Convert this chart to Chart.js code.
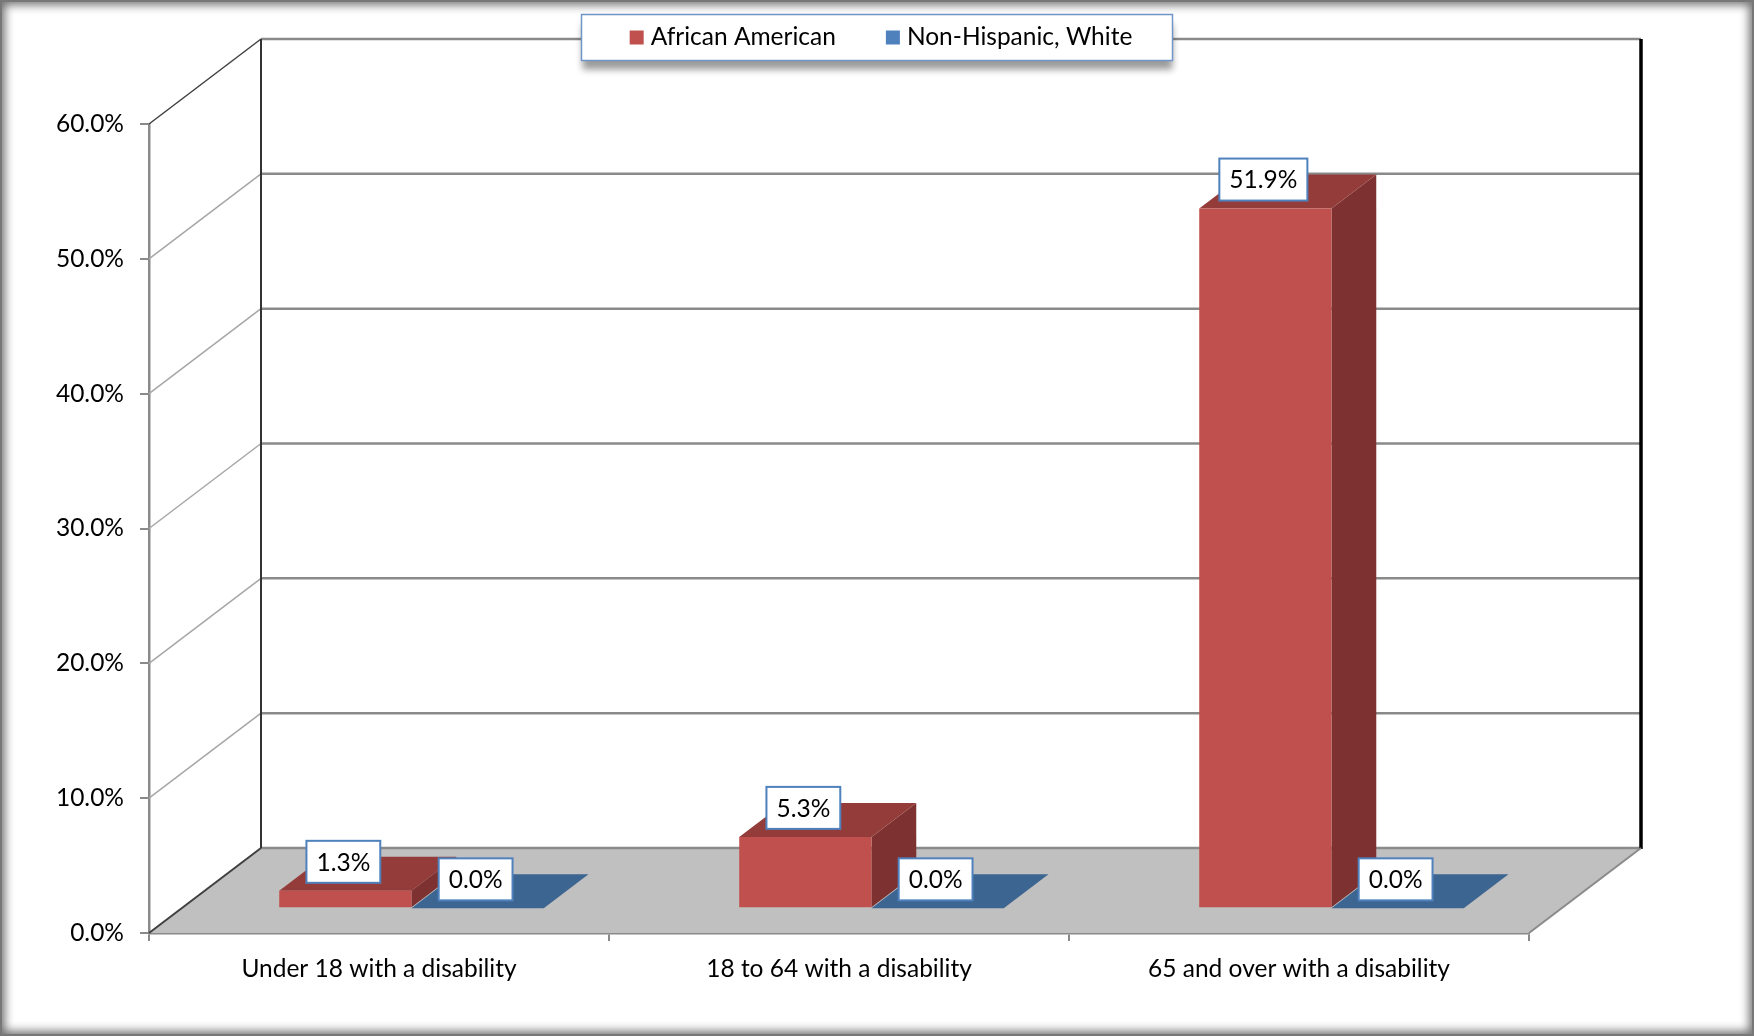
<!DOCTYPE html>
<html>
<head>
<meta charset="utf-8">
<script src="https://cdn.jsdelivr.net/npm/chart.js@4.4.1/dist/chart.umd.min.js"></script>
<style>
  html, body { margin: 0; padding: 0; background: #fff; }
  #wrap { position: relative; width: 1754px; height: 1036px; }
  #chart { display: block; }
  #frame {
    position: absolute; left: 0; top: 0; right: 0; bottom: 0;
    border: 2px solid #777;
    box-shadow: inset 0 0 10px 3px rgba(0,0,0,0.55);
    pointer-events: none;
  }
</style>
</head>
<body>
<div id="wrap">
  <canvas id="chart" width="1754" height="1036"></canvas>
  <div id="frame"></div>
</div>
<script>
var categories = ["Under 18 with a disability", "18 to 64 with a disability", "65 and over with a disability"];
var africanAmerican = [1.3, 5.3, 51.9];
var nonHispanicWhite = [0.0, 0.0, 0.0];
var yTicks = [0, 10, 20, 30, 40, 50, 60];

var redFront = "#c0504d", redTop = "#943c3a", redSide = "#7d3130";
var blueFront = "#4f81bd", blueTop = "#3d6591", blueSide = "#2f4f74";

// depth of the floor, and where the bars sit inside it
var depth = {dx: 112, dy: -85};
var barStart = 0.29, barDepth = 0.40;
var fontFamily = "Lato, 'Open Sans', sans-serif";
var fontSize = 24.5;

function poly(ctx, pts, fill) {
  ctx.beginPath();
  ctx.moveTo(pts[0][0], pts[0][1]);
  for (var i = 1; i < pts.length; i++) ctx.lineTo(pts[i][0], pts[i][1]);
  ctx.closePath();
  ctx.fillStyle = fill;
  ctx.fill();
}

function line(ctx, x1, y1, x2, y2, color, w) {
  ctx.beginPath();
  ctx.moveTo(x1, y1);
  ctx.lineTo(x2, y2);
  ctx.strokeStyle = color;
  ctx.lineWidth = w;
  ctx.stroke();
}

var box3d = {
  id: "box3d",
  beforeDatasetsDraw: function(chart) {
    var ctx = chart.ctx, a = chart.chartArea, y = chart.scales.y;
    var dx = depth.dx, dy = depth.dy;
    ctx.save();
    // floor
    poly(ctx, [[a.left, a.bottom], [a.right, a.bottom], [a.right + dx, a.bottom + dy], [a.left + dx, a.bottom + dy]], "#c0c0c0");
    // back wall and side wall grid
    yTicks.forEach(function(v) {
      var py = y.getPixelForValue(v);
      line(ctx, a.left + dx, py + dy, a.right + dx, py + dy, "#8a8a8a", 2.5);
      if (v > 0) line(ctx, a.left, py, a.left + dx, py + dy, v == yTicks[yTicks.length - 1] ? "#404040" : "#a6a6a6", 1.5);
    });
    line(ctx, a.left + dx, a.top + dy, a.left + dx, a.bottom + dy, "#333", 2);
    line(ctx, a.right + dx, a.top + dy, a.right + dx, a.bottom + dy + 1, "#000", 3.5);
    line(ctx, a.left, a.bottom, a.left + dx, a.bottom + dy, "#404040", 2);
    line(ctx, a.right, a.bottom, a.right + dx, a.bottom + dy, "#8a8a8a", 2);
    ctx.restore();

    // bars sit part way back on the floor
    ctx.save();
    ctx.translate(dx * barStart, dy * barStart);
    var bx = dx * barDepth, by = dy * barDepth;
    var tops = [redTop, blueTop], sides = [redSide, blueSide];
    chart.data.datasets.forEach(function(ds, di) {
      chart.getDatasetMeta(di).data.forEach(function(el) {
        var p = el.getProps(["x", "y", "base", "width"], true);
        var x0 = p.x - p.width / 2, x1 = p.x + p.width / 2;
        if (p.base - p.y > 0.5) poly(ctx, [[x1, p.y], [x1, p.base], [x1 + bx, p.base + by], [x1 + bx, p.y + by]], sides[di]);
        poly(ctx, [[x0, p.y], [x1, p.y], [x1 + bx, p.y + by], [x0 + bx, p.y + by]], tops[di]);
      });
    });
  },
  afterDatasetsDraw: function(chart) {
    var ctx = chart.ctx;
    ctx.font = fontSize + "px " + fontFamily;
    ctx.textAlign = "center";
    ctx.textBaseline = "middle";
    chart.data.datasets.forEach(function(ds, di) {
      chart.getDatasetMeta(di).data.forEach(function(el, i) {
        var txt = ds.data[i].toFixed(1) + "%";
        var w = ctx.measureText(txt).width + 20, h = 42;
        var cx = el.x - 2, bot = el.y - 8;
        ctx.fillStyle = "#fff";
        ctx.fillRect(cx - w / 2, bot - h, w, h);
        ctx.strokeStyle = "#4f81bd";
        ctx.lineWidth = 2;
        ctx.strokeRect(cx - w / 2, bot - h, w, h);
        ctx.fillStyle = "#000";
        ctx.fillText(txt, cx, bot - h / 2 + 1);
      });
    });
    ctx.restore();
  },
  afterDraw: function(chart) {
    // legend box
    var ctx = chart.ctx;
    ctx.save();
    ctx.font = fontSize + "px " + fontFamily;
    var sq = 14, gap = 7, itemGap = 50, pad = 46;
    var items = chart.data.datasets.map(function(ds) {
      return {text: ds.label, color: ds.backgroundColor, w: sq + gap + ctx.measureText(ds.label).width};
    });
    var total = items.reduce(function(s, it) { return s + it.w; }, 0) + itemGap * (items.length - 1);
    var bw = 591, bh = 46;
    var left = chart.width / 2 - bw / 2, top = 14.5, cy = top + bh / 2;
    ctx.shadowColor = "rgba(0,0,0,0.4)";
    ctx.shadowBlur = 7;
    ctx.shadowOffsetY = 9;
    ctx.fillStyle = "#fff";
    ctx.fillRect(left, top, bw, bh);
    ctx.shadowColor = "transparent";
    ctx.strokeStyle = "#6f97cc";
    ctx.lineWidth = 1.5;
    ctx.strokeRect(left, top, bw, bh);
    var x = chart.width / 2 - total / 2 + 4;
    ctx.textBaseline = "middle";
    ctx.textAlign = "left";
    items.forEach(function(it) {
      ctx.fillStyle = it.color;
      ctx.fillRect(x, cy - sq / 2, sq, sq);
      ctx.fillStyle = "#000";
      ctx.fillText(it.text, x + sq + gap, cy);
      x += it.w + itemGap;
    });
    ctx.restore();
  }
};

var ctx = document.getElementById("chart").getContext("2d");
var myChart = new Chart(ctx, {
  type: "bar",
  data: {
    labels: categories,
    datasets: [{
      label: "African American",
      data: africanAmerican,
      backgroundColor: redFront,
      categoryPercentage: 0.575,
      barPercentage: 1.0,
      clip: false
    }, {
      label: "Non-Hispanic, White",
      data: nonHispanicWhite,
      backgroundColor: blueFront,
      categoryPercentage: 0.575,
      barPercentage: 1.0,
      clip: false
    }]
  },
  options: {
    responsive: false,
    devicePixelRatio: 1,
    animation: false,
    layout: {padding: {top: 124, right: 225, bottom: 0, left: 0}},
    plugins: {legend: {display: false}, tooltip: {enabled: false}},
    scales: {
      x: {
        grid: {drawOnChartArea: false, tickLength: 8, color: "#8a8a8a", lineWidth: 2},
        border: {color: "#8a8a8a", width: 2.5},
        ticks: {font: {family: fontFamily, size: fontSize}, color: "#000", padding: 13, maxRotation: 0},
        afterFit: function(s) { s.height = 103; }
      },
      y: {
        min: yTicks[0],
        max: yTicks[yTicks.length - 1],
        grid: {drawOnChartArea: false, tickLength: 9, color: "#8a8a8a", lineWidth: 2},
        border: {color: "#8a8a8a", width: 2.5},
        ticks: {
          stepSize: 10,
          font: {family: fontFamily, size: fontSize},
          color: "#000",
          padding: 16,
          callback: function(v) { return v.toFixed(1) + "%"; }
        },
        afterFit: function(s) { s.width = 149; }
      }
    }
  },
  plugins: [box3d]
});
</script>
</body>
</html>
